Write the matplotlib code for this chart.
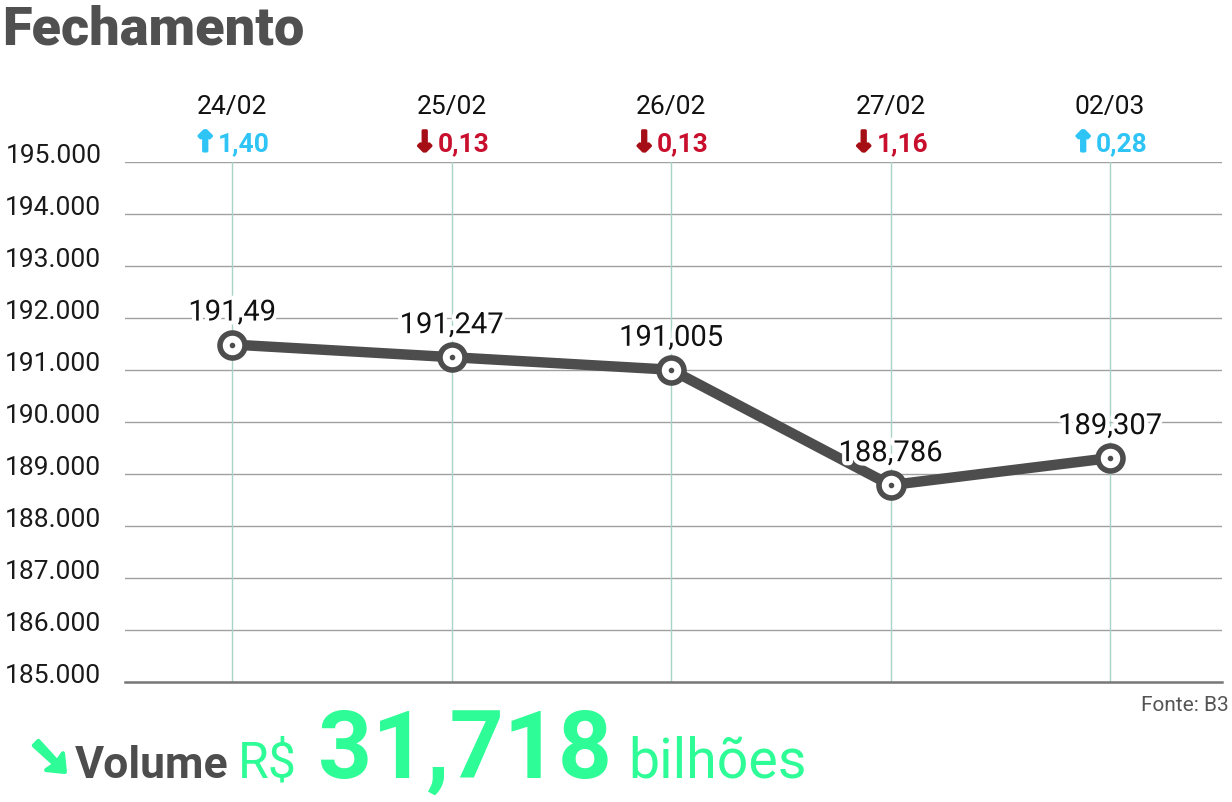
import matplotlib
matplotlib.use("Agg")
import matplotlib.pyplot as plt
import matplotlib.patheffects as pe
from matplotlib.transforms import blended_transform_factory

dates = ["24/02", "25/02", "26/02", "27/02", "02/03"]
values = [191490, 191247, 191005, 188786, 189307]
value_labels = ["191,49", "191,247", "191,005", "188,786", "189,307"]
changes = ["1,40", "0,13", "0,13", "1,16", "0,28"]
directions = ["up", "down", "down", "down", "up"]
yticks = [185000, 186000, 187000, 188000, 189000, 190000, 191000, 192000, 193000, 194000, 195000]
ytick_labels = ["185.000", "186.000", "187.000", "188.000", "189.000", "190.000",
                "191.000", "192.000", "193.000", "194.000", "195.000"]

W, H = 1232, 803
fig = plt.figure(figsize=(W / 100, H / 100), dpi=100)
ax = fig.add_axes([125 / W, 1 - 683 / H, (1222 - 125) / W, (683 - 163) / H])

x = list(range(len(values)))
ax.set_xlim(-0.488, 4.51)
ax.set_ylim(185000, 195000)

ax.set_yticks(yticks)
ax.set_yticklabels(ytick_labels, fontsize=19, color="#1a1a1a", family="Roboto")
for lab in ax.get_yticklabels():
    lab.set_va("baseline")
ax.tick_params(axis="y", length=0, pad=17)
ax.set_xticks([])
for s in ["top", "right", "left"]:
    ax.spines[s].set_visible(False)
ax.spines["bottom"].set_color("#777777")
ax.spines["bottom"].set_linewidth(1.8)

for t in yticks[1:]:
    ax.axhline(t, color="#a0a0a0", lw=1.0, zorder=1)
for xi in x:
    ax.axvline(xi, color="#a9d3c9", lw=1.0, zorder=1)

ax.plot(x, values, color="#4d4d4d", lw=7.5, solid_capstyle="butt", zorder=3)
ax.plot(x, values, "o", ms=18, mfc="white", mec="#4d4d4d", mew=4, zorder=4)
ax.plot(x, values, "o", ms=3, color="#4d4d4d", zorder=5)

for xi, v, lab in zip(x, values, value_labels):
    ax.annotate(lab, (xi, v), xytext=(0, 23), textcoords="offset points",
                ha="center", va="center", fontsize=21, family="Roboto", color="#111111",
                zorder=6,
                path_effects=[pe.withStroke(linewidth=6, foreground="white")])

tr = blended_transform_factory(ax.transData, ax.transAxes)
for xi, d, c, dr in zip(x, dates, changes, directions):
    ax.text(xi, 1 + (163 - 107) / 520, d, transform=tr, ha="center", va="center",
            fontsize=19, family="Roboto", color="#111111")
    col = "#2ec4f5" if dr == "up" else "#c8102e"
    acol = "#2ec4f5" if dr == "up" else "#a50e15"
    arrow = "\u2191" if dr == "up" else "\u2193"
    yy = 1 + (163 - 144) / 520
    ax.annotate(arrow, (xi, yy), xycoords=tr, xytext=(-11, 0), textcoords="offset points",
                ha="right", va="center", fontsize=20, fontweight="bold",
                family="DejaVu Sans", color=acol,
                path_effects=[pe.withStroke(linewidth=2.2, foreground=acol)])
    ax.annotate(c, (xi, yy), xycoords=tr, xytext=(-10, 0), textcoords="offset points",
                ha="left", va="center", fontsize=19, fontweight="bold",
                family="Roboto", color=col)

fig.text(2 / W, 1 - 30 / H, "Fechamento", fontsize=39, fontweight="black",
         family="Roboto", color="#505050", ha="left", va="center")

fig.text(1229 / W, 1 - 706 / H, "Fonte: B3", fontsize=15, family="Roboto",
         color="#555555", ha="right", va="center")

green = "#2efc96"
yb = 1 - 778 / H
fig.text(27 / W, yb + 2 / H, "\u2798", fontsize=40, family=["DejaVu Sans"], color=green,
         ha="left", va="baseline", fontweight="bold",
         path_effects=[pe.withStroke(linewidth=3, foreground=green)])
fig.text(75 / W, yb, "Volume", fontsize=32, fontweight="bold", family="Roboto",
         color="#4d4d4d", ha="left", va="baseline")
fig.text(238 / W, yb, "R$", fontsize=36, fontweight="normal", family="Roboto", color=green,
         ha="left", va="baseline")
fig.text(318 / W, yb, "31,718", fontsize=68, fontweight="bold", family="Roboto",
         color=green, ha="left", va="baseline")
fig.text(628 / W, yb, "bilhões", fontsize=40, fontweight="normal", family="Roboto", color=green,
         ha="left", va="baseline")

fig.savefig("out.png", dpi=100)
